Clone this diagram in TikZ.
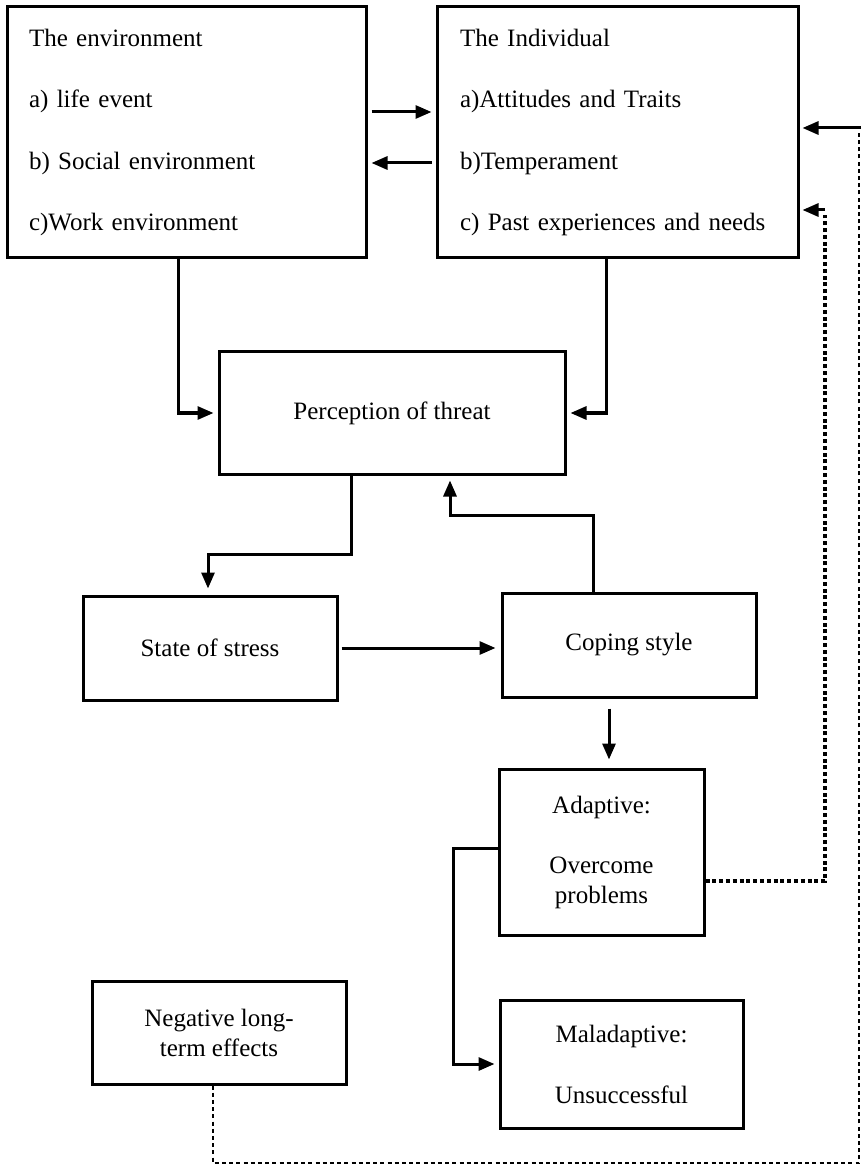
\documentclass[tikz,border=0pt]{standalone}
\usepackage{fontspec}
\setmainfont{Liberation Serif}
\usetikzlibrary{arrows.meta,calc}
\tikzset{
  box/.style={draw, line width=1.5pt, inner sep=0pt, align=center, font=\fontsize{12.5}{15}\selectfont},
  listbox/.style={draw, line width=1.5pt, inner xsep=11pt, inner ysep=0pt, align=left, text width=157.5pt, minimum height=125.5pt, font=\fontsize{12.5}{30.8}\selectfont},
  arr/.style={line width=1.5pt, -{Triangle[length=8pt,width=6.5pt]}},
  loopline/.style={line width=1.6pt, dash pattern=on 2pt off 1.4pt},
  outerline/.style={line width=1.1pt, dash pattern=on 2pt off 1.6pt},
}

\begin{document}
\begin{tikzpicture}[x=0.5pt,y=-0.5pt]
\useasboundingbox (0,0) rectangle (861,1165);

% boxes
\node[listbox, minimum width=179.5pt] (env) at (186.5,132.5) {The environment\\a) life event\\b) Social environment\\c)Work environment};
\node[listbox, minimum width=180.5pt] (ind) at (617.5,132.5) {The Individual\\a)Attitudes and Traits\\b)Temperament\\c) Past experiences and needs};
\node[box, minimum width=173pt, minimum height=61pt] (threat) at (392,413) {Perception of threat};
\node[box, minimum width=127pt, minimum height=52pt] (stress) at (210,648) {State of stress};
\node[box, minimum width=127pt, minimum height=52pt] (coping) at (629,645) {Coping style};
\node[box, minimum width=102.5pt, minimum height=83pt] (adapt) at (601.5,852) {Adaptive:\\[15pt]Overcome\\problems};
\node[box, minimum width=121.5pt, minimum height=64pt] (maladapt) at (621.5,1064) {Maladaptive:\\[15.5pt]Unsuccessful};
\node[box, minimum width=127pt, minimum height=51.5pt] (neg) at (219,1032.5) {Negative long-\\term effects};

\coordinate (fb1) at (825,210);
\coordinate (fb2) at (859,128);

% connectors
\draw[arr, shorten <=2pt, shorten >=2pt] (env.east |- 0,112) -- (ind.west |- 0,112);
\draw[arr, shorten <=2pt, shorten >=2pt] (ind.west |- 0,163) -- (env.east |- 0,163);
\draw[arr, shorten >=2pt] (env.south -| 178,0) |- (threat.west);
\draw[arr, shorten >=2pt] (ind.south -| 606,0) |- (threat.east);
\draw[arr, shorten >=3pt] (threat.south -| 351,0) -- ++(0,79) -| (stress.north -| 208,0);
\draw[arr, shorten <=1.5pt, shorten >=2.5pt] (stress.east) -- (stress.east -| coping.west);
\draw[arr, shorten >=2.5pt] (coping.north -| 593,0) -- ++(0,-76) -| (threat.south -| 450,0);
\draw[arr, shorten <=5pt, shorten >=4pt] (coping.south -| 609,0) -- (adapt.north -| 609,0);
\draw[arr, shorten >=2pt] (adapt.west |- 0,848) -- ++(-44,0) |- (maladapt.west);

% feedback
\draw[loopline] (adapt.east |- 0,881) -| ([yshift=-2.5pt]fb1);
\draw[arr, shorten >=1.5pt] (fb1) -- (ind.east |- fb1);
\draw[outerline] (neg.south -| 213,0) |- (859,1163) -- ([yshift=-2.5pt]fb2);
\draw[arr, shorten >=1.5pt] ([xshift=1pt]fb2) -- (ind.east |- fb2);
\end{tikzpicture}
\end{document}
